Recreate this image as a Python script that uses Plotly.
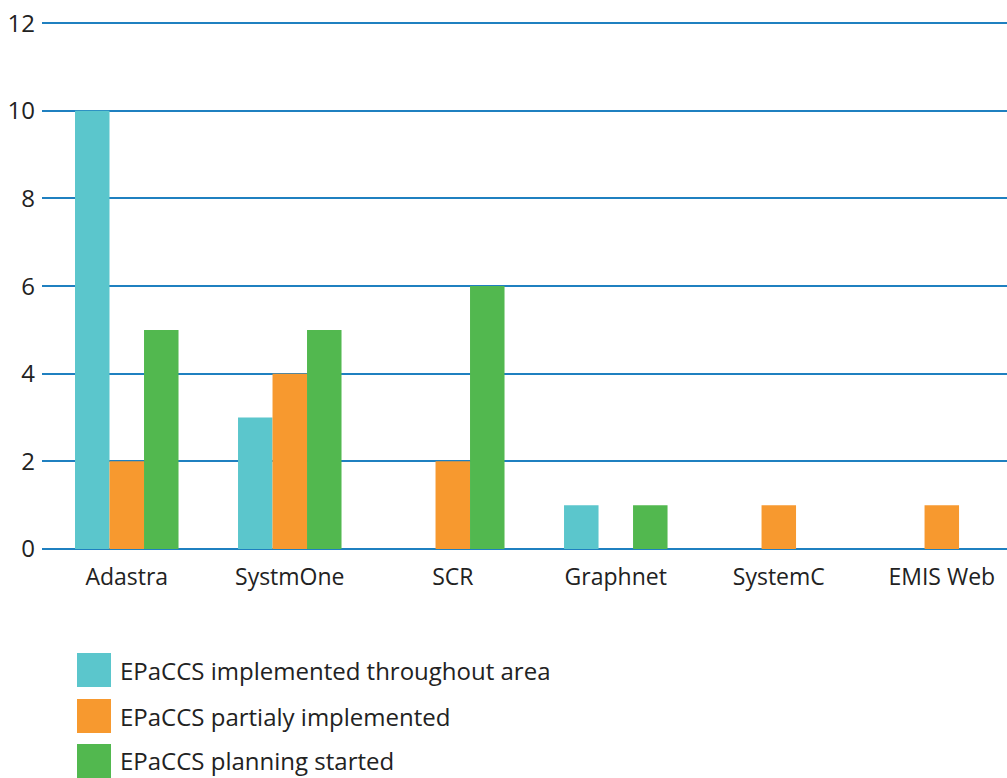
import plotly.graph_objects as go

categories = ["Adastra", "SystmOne", "SCR", "Graphnet", "SystemC", "EMIS Web"]
implemented = [10, 3, 0, 1, 0, 0]
partial = [2, 4, 2, 0, 1, 1]
planning = [5, 5, 6, 1, 0, 0]
series_names = ["EPaCCS implemented throughout area",
                "EPaCCS partialy implemented",
                "EPaCCS planning started"]
colors = ["#5BC6CC", "#F7992F", "#52B84F"]
y_ticks = [0, 2, 4, 6, 8, 10, 12]

FONT = "Open Sans, Noto Sans, sans-serif"
W, H = 1007, 778
L, R, T, B = 42, 0, 21, 229
PW = W - L - R
PH = H - T - B
PB = H - B  # pixel y of plot bottom

fig = go.Figure()
for name, vals, col in zip(series_names, [implemented, partial, planning], colors):
    fig.add_trace(go.Bar(x=categories, y=vals, name=name,
                         marker=dict(color=col, line=dict(width=0))))

fig.update_layout(
    width=W, height=H,
    margin=dict(l=L, r=R, t=T, b=B),
    paper_bgcolor="white", plot_bgcolor="white",
    barmode="group", bargap=0.365, bargroupgap=0,
    showlegend=False,
    font=dict(family=FONT, size=23, color="#222222"),
    xaxis=dict(range=[-0.52, 5.40], showgrid=False, zeroline=False,
               showline=False, ticks="", ticklabelstandoff=12,
               tickfont=dict(size=23, color="#222222")),
    yaxis=dict(range=[0, 12.05], tickvals=y_ticks, showgrid=True,
               gridcolor="#1F80C0", gridwidth=1.5, zeroline=True,
               zerolinecolor="#1F80C0", zerolinewidth=1.5, showline=False,
               ticks="", ticklabelstandoff=6,
               tickfont=dict(size=24, color="#222222")),
)

# custom legend with large square swatches
legend_rows = [670, 716, 761]
for name, col, yc in zip(series_names, colors, legend_rows):
    fig.add_shape(type="rect", xref="paper", yref="paper",
                  x0=(77 - L) / PW, x1=(111 - L) / PW,
                  y0=(PB - (yc + 17)) / PH, y1=(PB - (yc - 17)) / PH,
                  fillcolor=col, line=dict(width=0))
    fig.add_annotation(xref="paper", yref="paper",
                       x=(118 - L) / PW, y=(PB - yc) / PH,
                       text=name, showarrow=False, xanchor="left", yanchor="middle",
                       font=dict(family=FONT, size=24, color="#222222"))

fig.write_html("out.html")
